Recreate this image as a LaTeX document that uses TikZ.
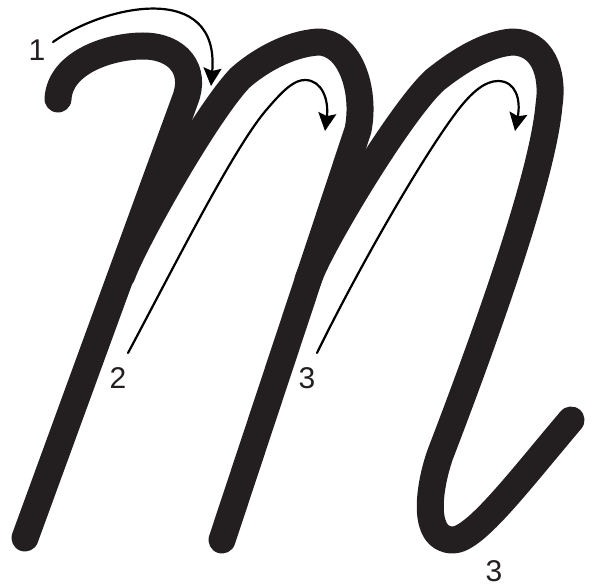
\documentclass[tikz,border=0pt]{standalone}
\usepackage{fontspec}
\setmainfont{Liberation Sans}
\usetikzlibrary{arrows.meta}
\definecolor{ink}{HTML}{231F20}
\begin{document}
\begin{tikzpicture}[x=1pt, y=-1pt,
  pen/.style={draw=ink, line width=27pt, line cap=round, line join=round},
  guide/.style={draw=black, line width=2.2pt, line cap=round,
                -{Stealth[length=18pt, width=18pt, inset=3pt]}},
  num/.style={text=ink, inner sep=0pt, font=\fontsize{30}{30}\selectfont}
]
\useasboundingbox (0,0) rectangle (600,588);
% the letter
\draw[pen] (58,99) .. controls (60,62) and (110,46) .. (143,46)
  .. controls (178,46) and (197,70) .. (185,100) -- (25,538);
\draw[pen] (122,275) .. controls (134,242) and (205,115) .. (240,78)
  .. controls (258,62) and (288,44) .. (318,42)
  .. controls (350,42) and (366,90) .. (358,130) -- (222,540);
\draw[pen] (308,280) .. controls (319,247) and (400,112) .. (435,80)
  .. controls (460,60) and (487,44) .. (512,42)
  .. controls (542,42) and (554,72) .. (549,105)
  .. controls (543,175) and (488,330) .. (440,455)
  .. controls (428,490) and (422,540) .. (453,540)
  .. controls (475,540) and (520,480) .. (571,420);
% numbers
\node[num] (n1) at (37,50) {1};
\node[num] (n2) at (118,378) {2};
\node[num] (n3) at (307,378) {3};
\node[num] (n4) at (494,571) {3};
% guide arrows
\coordinate (s1) at (53,42);
\coordinate (e1) at (211,86);
\coordinate (s2) at (128,353);
\coordinate (e2) at (325,131);
\coordinate (s3) at (317,353);
\coordinate (e3) at (515,131);
\draw[guide] (s1) .. controls (105,5) and (220,-20) .. (e1);
\draw[guide] (s2) .. controls (175,265) and (235,145) .. (268,108)
  .. controls (285,88) and (295,80) .. (305,80)
  .. controls (322,80) and (329,100) .. (e2);
\draw[guide] (s3) .. controls (355,275) and (420,160) .. (458,110)
  .. controls (472,92) and (485,81) .. (498,81)
  .. controls (516,81) and (521,100) .. (e3);
\end{tikzpicture}
\end{document}
